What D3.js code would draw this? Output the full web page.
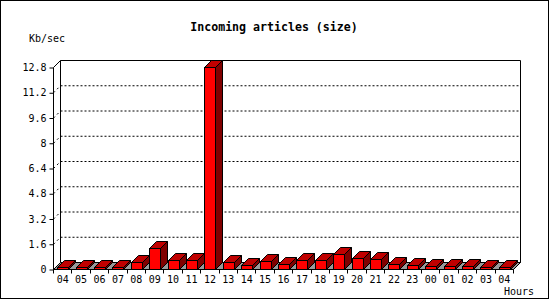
<!DOCTYPE html>
<html><head><meta charset="utf-8">
<script src="https://cdn.jsdelivr.net/npm/d3@7"></script>
<style>
html,body{margin:0;padding:0;background:#fff;}
svg{display:block;}
text{font-family:"DejaVu Sans Mono","Liberation Mono",monospace;fill:#000;}
</style></head>
<body><svg id="c" width="550" height="300"></svg>
<script>
const hours = ["04","05","06","07","08","09","10","11","12","13","14","15","16","17","18","19","20","21","22","23","00","01","02","03","04"];
const values = [0.14,0.14,0.14,0.14,0.46,1.30,0.54,0.60,12.8,0.46,0.27,0.52,0.33,0.60,0.60,0.96,0.71,0.65,0.33,0.27,0.18,0.18,0.18,0.11,0.11];
const yTicks = [0,1.6,3.2,4.8,6.4,8,9.6,11.2,12.8];
const yTickLabels = ["0","1.6","3.2","4.8","6.4","8","9.6","11.2","12.8"];
const title = "Incoming articles (size)";
const yUnit = "Kb/sec";
const xUnit = "Hours";

const svg = d3.select("#c");
const D = 7;
const x0 = 53.5, x1 = 513.5, y0 = 269.5, y1 = 67.5;
const x = d3.scaleBand().domain(d3.range(hours.length)).range([x0, x1]).paddingInner(0.4).paddingOuter(0.2);
const y = d3.scaleLinear().domain([0, 12.8]).range([y0, y1]);

// outer border
svg.append("rect").attr("x",0.5).attr("y",0.5).attr("width",548).attr("height",298)
  .attr("fill","#fff").attr("stroke","#000");

// title
svg.append("text").attr("x",274).attr("y",31).attr("text-anchor","middle")
  .style("font-size","11.6px").style("font-weight","bold").text(title);
svg.append("text").attr("x",29).attr("y",42).style("font-size","10px").text(yUnit);
svg.append("text").attr("x",504).attr("y",295).style("font-size","10px").text(xUnit);

// back plane lines
const g = svg.append("g").attr("stroke","#000").attr("fill","none");
g.append("line").attr("x1",x0+D).attr("x2",x1+D).attr("y1",y1-D).attr("y2",y1-D);
g.append("line").attr("x1",x0+D).attr("x2",x0+D).attr("y1",y1-D).attr("y2",y0-D);
g.append("line").attr("x1",x1+D).attr("x2",x1+D).attr("y1",y1-D).attr("y2",y0-D);
g.append("line").attr("x1",x0).attr("x2",x0+D).attr("y1",y1).attr("y2",y1-D);

// gridlines
yTicks.slice(1,-1).forEach(t=>{
  g.append("line").attr("x1",x0+D).attr("x2",x1+D).attr("y1",y(t)-D).attr("y2",y(t)-D)
    .attr("stroke-dasharray","2,2");
  g.append("line").attr("x1",x0).attr("x2",x0+D).attr("y1",y(t)).attr("y2",y(t)-D)
    .attr("stroke-dasharray","2,3");
});

// floor
svg.append("path")
  .attr("d",`M${x0},${y0}L${x1},${y0}L${x1+D},${y0-D}L${x0+D},${y0-D}Z`)
  .attr("fill","#999").attr("stroke","#000");

// bars
const bars = svg.append("g").attr("stroke","#000").attr("stroke-linejoin","miter");
values.forEach((v,i)=>{
  const bx = Math.round(x(i))+0.5, bw = Math.round(x.bandwidth());
  const by = Math.round(y(v)-0.5)+0.5;
  const gb = bars.append("g");
  gb.append("path").attr("d",`M${bx+bw},${by}L${bx+bw+D},${by-D}L${bx+bw+D},${y0-D}L${bx+bw},${y0}Z`).attr("fill","#800000");
  gb.append("path").attr("d",`M${bx},${by}L${bx+D},${by-D}L${bx+bw+D},${by-D}L${bx+bw},${by}Z`).attr("fill","#c00000");
  gb.append("rect").attr("x",bx).attr("y",by).attr("width",bw).attr("height",y0-by).attr("fill","#ff0000");
});

// front axes
const ax = svg.append("g").attr("stroke","#000");
ax.append("line").attr("x1",x0).attr("x2",x0).attr("y1",y1).attr("y2",y0);
ax.append("line").attr("x1",x0).attr("x2",x1).attr("y1",y0).attr("y2",y0);
ax.append("line").attr("x1",x1).attr("x2",x1+D).attr("y1",y0).attr("y2",y0-D);

// y axis ticks
const ya = d3.axisLeft(y).tickValues(yTicks).tickSize(4).tickPadding(3)
  .tickFormat((d,i)=>yTickLabels[i]);
const yg = svg.append("g").attr("transform",`translate(${x0},0)`).call(ya);
yg.select(".domain").remove();
yg.selectAll("text").style("font-size","10px").style("font-family","DejaVu Sans Mono").attr("fill","#000");
yg.selectAll("line").attr("stroke","#000");

// x axis ticks at boundaries
const step = x.step();
for(let k=0;k<=hours.length;k++){
  const tx = Math.round(x0 + k*step - 0.5)+0.5;
  ax.append("line").attr("x1",tx).attr("x2",tx).attr("y1",y0).attr("y2",y0+4);
}
svg.append("g").selectAll("text").data(hours).join("text")
  .attr("x",(d,i)=>x0 + (i+0.5)*step).attr("y",283).attr("text-anchor","middle")
  .style("font-size","10px").text(d=>d);
</script></body></html>
